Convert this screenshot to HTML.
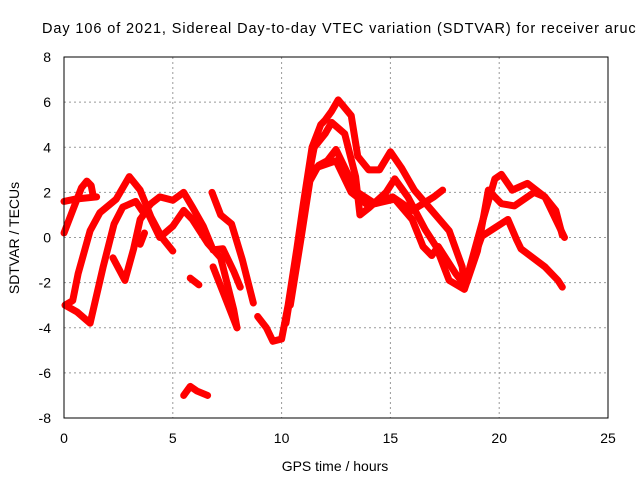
<!DOCTYPE html>
<html><head><meta charset="utf-8"><style>
body{margin:0;background:#fff;}
svg{display:block;font-family:"Liberation Sans",sans-serif;}
</style></head><body>
<svg id="chart" width="640" height="480" viewBox="0 0 640 480" xmlns="http://www.w3.org/2000/svg">
<rect width="640" height="480" fill="#fff"/>
<text x="42" y="33" font-size="14.5" letter-spacing="0.9" fill="#000">Day 106 of 2021, Sidereal Day-to-day VTEC variation (SDTVAR) for receiver aruc</text>
<g id="grid"></g>
<g id="series"></g>
<rect x="64" y="57" width="544" height="361" fill="none" stroke="#000" stroke-width="1"/>
<g id="ticks"></g>
<text x="335" y="471" font-size="14" text-anchor="middle">GPS time / hours</text>
<text transform="translate(19,238) rotate(-90)" font-size="14" text-anchor="middle">SDTVAR / TECUs</text>
</svg>
<script>
const xTicks=[0,5,10,15,20,25];
const yTicks=[-8,-6,-4,-2,0,2,4,6,8];
const sA_h=[0,0.4,0.8,1.05,1.25,1.35];
const sA_v=[0.2,1.2,2.2,2.5,2.3,1.8];
const sB_h=[0,0.5,1.0,1.5];
const sB_v=[1.6,1.7,1.75,1.8];
const sC_h=[0.05,0.4,0.65,1.2,1.65,2.4,3.0,3.5,4.0,4.5,5.0];
const sC_v=[-3.0,-2.8,-1.6,0.3,1.1,1.7,2.7,2.1,0.9,0,-0.6];
const sD_h=[0.05,0.6,1.2,1.8,2.3,2.7,3.3,3.65,4.0,4.4,5.0,5.5,5.9,6.4,6.85,7.3,7.8,8.1];
const sD_v=[-3.0,-3.3,-3.8,-1.3,0.6,1.35,1.6,1.1,1.5,1.8,1.65,2.0,1.35,0.5,-0.55,-0.5,-1.5,-2.2];
const sE_h=[2.25,2.8,3.2,3.5,3.8,4.4,5.0,5.5,5.9,6.6,7.2,7.8,7.95];
const sE_v=[-0.9,-1.9,-0.5,0.8,1.2,0,0.5,1.2,0.8,-0.25,-0.9,-3.2,-4.0];
const sF_h=[6.85,7.3,7.95];
const sF_v=[-1.3,-2.4,-4.0];
const sG_h=[6.8,7.2,7.7,8.2,8.7];
const sG_v=[2.0,1.0,0.6,-1.0,-2.9];
const sH_h=[5.5,5.8,6.1,6.6];
const sH_v=[-7.0,-6.6,-6.8,-7.0];
const sI_h=[5.8,6.2];
const sI_v=[-1.8,-2.1];
const sJ_h=[3.5,3.7];
const sJ_v=[-0.3,0.2];
const sK_h=[8.9,9.3,9.6,10.0,10.3,10.7,11.0,11.4,11.8,12.0,12.3,12.6,13.2,13.5,14.0,14.5,15.0,15.5,16.1,16.9,17.7,18.3,18.4,19.2,19.8,20.1,20.6,21.3,22.1,22.6,23.0];
const sK_v=[-3.5,-4.0,-4.6,-4.5,-3.0,-0.5,1.5,4.0,5.0,5.2,5.6,6.1,5.4,3.6,3.0,3.0,3.8,3.1,2.1,1.2,0.3,-1.3,-2.2,0.6,2.6,2.8,2.1,2.4,1.8,0.8,0.0];
const sL_h=[10.2,10.7,11.1,11.5,12.0,12.3,12.9,13.4,13.6,14.0,14.8,15.2,15.8,16.6,17.1,17.7,18.4,19.0,19.5,20.1,20.7,21.6,22.1,22.6,22.9];
const sL_v=[-3.8,-0.8,2.0,4.0,4.6,5.1,4.6,2.7,1.0,1.3,2.0,2.6,1.8,0.35,-0.4,-1.9,-2.3,-0.6,2.1,1.5,1.4,2.0,1.8,1.2,0.1];
const sM_h=[10.4,10.9,11.3,11.7,12.1,12.5,13.1,13.5,14.3,15.2,16.0,16.5,16.9,17.2,18.0,18.4,19.2,20.4,20.8,21.0,22.1,22.7,22.9];
const sM_v=[-3.0,0.0,2.5,3.2,3.4,3.9,2.7,2.0,1.5,1.7,0.8,-0.4,-0.8,-0.4,-1.6,-2.1,0.05,0.8,-0.1,-0.5,-1.3,-1.9,-2.2];
const sN_h=[11.3,11.9,12.5,13.2,14.0,15.1,16.0,17.0,17.4];
const sN_v=[3.0,3.2,3.4,2.0,1.4,1.8,1.2,1.8,2.1];
const allSeries=[[sA_h,sA_v],[sB_h,sB_v],[sC_h,sC_v],[sD_h,sD_v],[sE_h,sE_v],[sF_h,sF_v],[sG_h,sG_v],[sH_h,sH_v],[sI_h,sI_v],[sJ_h,sJ_v],[sK_h,sK_v],[sL_h,sL_v],[sM_h,sM_v],[sN_h,sN_v]];
const X=h=>64+h*544/25;
const Y=v=>237.5-v*361/16;
const NS="http://www.w3.org/2000/svg";
const grid=document.getElementById('grid'),ticks=document.getElementById('ticks'),ser=document.getElementById('series');
xTicks.forEach(t=>{
  if(t>0&&t<25){const l=document.createElementNS(NS,'line');
  
  
  l.setAttribute('x1',X(t));l.setAttribute('x2',X(t));l.setAttribute('y1',57);l.setAttribute('y2',418);
  l.setAttribute('stroke','#999');l.setAttribute('stroke-dasharray','2,3');grid.appendChild(l);}
  const tk=document.createElementNS(NS,'text');
  
  
  tk.setAttribute('x',X(t));tk.setAttribute('y',443);tk.setAttribute('font-size','14');tk.setAttribute('text-anchor','middle');
  tk.textContent=t;ticks.appendChild(tk);
});
yTicks.forEach(t=>{
  if(t>-8&&t<8){const l=document.createElementNS(NS,'line');
  
  
  l.setAttribute('x1',64);l.setAttribute('x2',608);l.setAttribute('y1',Y(t));l.setAttribute('y2',Y(t));
  l.setAttribute('stroke','#999');l.setAttribute('stroke-dasharray','2,3');grid.appendChild(l);}
  const tk=document.createElementNS(NS,'text');
  
  
  tk.setAttribute('x',51);tk.setAttribute('y',Y(t)+5);tk.setAttribute('font-size','14');tk.setAttribute('text-anchor','end');
  tk.textContent=t;ticks.appendChild(tk);
});
allSeries.forEach(s=>{
  const p=document.createElementNS(NS,'polyline');
  
  
  p.setAttribute('points',s[0].map((h,i)=>X(h)+','+Y(s[1][i])).join(' '));
  p.setAttribute('fill','none');p.setAttribute('stroke','#f00');p.setAttribute('stroke-width','7');
  p.setAttribute('stroke-linejoin','round');p.setAttribute('stroke-linecap','round');
  ser.appendChild(p);
});
</script>
</body></html>
